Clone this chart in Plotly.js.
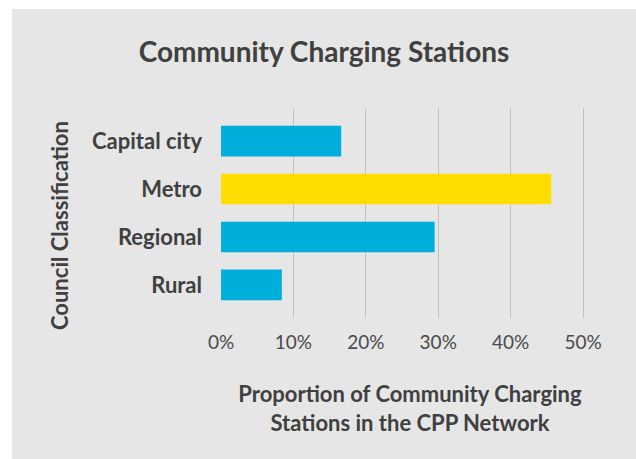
<!DOCTYPE html>
<html>
<head>
<meta charset="utf-8">
<script src="https://cdn.plot.ly/plotly-3.0.1.min.js"></script>
<style>
  html, body { margin: 0; padding: 0; background: #ffffff; width: 636px; height: 459px; overflow: hidden; }
  #chart { position: absolute; left: 12px; top: 9px; width: 624px; height: 450px; }
</style>
</head>
<body>
<div id="chart"></div>
<script>
const categories = ["Capital city", "Metro", "Regional", "Rural"];
const proportions = [0.166, 0.456, 0.295, 0.084];
const highlighted = "Metro";
const xTickValues = [0, 0.1, 0.2, 0.3, 0.4, 0.5];
const xTickLabels = ["0%", "10%", "20%", "30%", "40%", "50%"];
const yAxisTitle = "Council Classification";

const FONT = "Lato, 'Open Sans', sans-serif";
const TEXT = "#404040";

const barColors = categories.map(c => c === highlighted ? "#FFDD00" : "#00AEDB");

const trace = {
  type: "bar",
  orientation: "h",
  y: categories,
  x: proportions,
  marker: { color: barColors, line: { width: 0 } },
  width: 0.64,
  hoverinfo: "skip"
};

const layout = {
  width: 624,
  height: 450,
  paper_bgcolor: "#e6e6e6",
  plot_bgcolor: "#e6e6e6",
  margin: { l: 209, r: 37, t: 99, b: 141 },
  showlegend: false,
  title: {
    text: "<b>Community Charging Stations</b>",
    font: { family: FONT, size: 28, color: TEXT },
    x: 0.5, xanchor: "center",
    y: 1 - 43 / 450, yanchor: "middle"
  },
  xaxis: {
    range: [0, 0.522],
    tickvals: xTickValues,
    ticktext: xTickLabels,
    showgrid: true,
    gridcolor: "#c2c2c2",
    gridwidth: 1,
    zeroline: false,
    showline: false,
    ticks: "",
    ticklabelstandoff: 11,
    tickfont: { family: FONT, size: 19, color: "#4a4a4a" },
    title: {
      text: "<b>Proportion of Community Charging<br>Stations in the CPP Network</b>",
      font: { family: FONT, size: 22, color: TEXT },
      standoff: 34
    }
  },
  yaxis: {
    type: "category",
    categoryorder: "array",
    categoryarray: categories,
    range: [3.69, -0.69],
    showgrid: false,
    zeroline: false,
    showline: false,
    ticks: "",
    ticklabelstandoff: 18,
    tickfont: { family: FONT, size: 22, color: TEXT, weight: "bold" },
    title: { text: "" }
  },
  annotations: [{
    text: "<b>" + yAxisTitle + "</b>",
    xref: "paper", yref: "paper",
    x: 0, y: 1 - (217 - 99) / 210,
    xanchor: "center", yanchor: "middle",
    xshift: -162,
    textangle: -90,
    showarrow: false,
    font: { family: FONT, size: 22, color: TEXT }
  }]
};

Plotly.newPlot("chart", [trace], layout, { displayModeBar: false, staticPlot: true });
</script>
</body>
</html>
